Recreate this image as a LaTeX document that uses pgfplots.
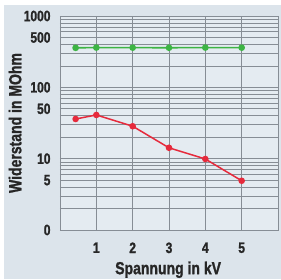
\documentclass[border=0pt]{standalone}
\usepackage{fontspec}
\setmainfont{Liberation Sans}
\newfontfamily\cond{Liberation Sans}[FakeStretch=0.8, BoldFeatures={FakeBold=1.2}]
\usepackage{pgfplots}
\pgfplotsset{compat=1.18}
\definecolor{bgc}{HTML}{DCE4EB}
\definecolor{plotbg}{HTML}{E4EBF1}
\definecolor{gridc}{HTML}{868D95}
\definecolor{gr}{HTML}{3DB444}
\definecolor{rd}{HTML}{E62A3C}
\begin{document}
\begin{tikzpicture}
\fill[bgc] (-60pt,-49pt) rectangle (221pt,230pt);
\fill[white] (-60pt,225pt) rectangle (221pt,230pt);
\fill[white] (-60pt,-49pt) rectangle (-56pt,230pt);
\begin{axis}[
  at={(0pt,0pt)}, anchor=south west,
  scale only axis, width=218pt, height=214pt,
  ymode=log, xmin=0, xmax=6, ymin=1, ymax=1000,
  axis background/.style={fill=plotbg},
  axis line style={gridc, line width=0.8pt},
  xtick={1,2,3,4,5}, xticklabels={1,2,3,4,5},
  ytick={1,2,3,4,5,6,7,8,9,10,20,30,40,50,60,70,80,90,100,200,300,400,500,600,700,800,900,1000},
  yticklabels={},
  extra y ticks={1,5,10,50,100,500,1000},
  extra y tick labels={0,5,10,50,100,500,1000},
  extra y tick style={grid=none},
  minor y tick num=0,
  major tick length=0pt,
  xmajorgrids, ymajorgrids,
  grid style={gridc, line width=0.7pt},
  tick label style={font=\cond\bfseries\fontsize{15}{15}\selectfont, text=black!85},
  xticklabel style={yshift=-9pt},
  yticklabel style={xshift=-6pt},
  log basis y=10,
  xlabel={Spannung in kV},
  ylabel={Widerstand in MOhm},
  label style={font=\cond\bfseries\fontsize{17.5}{17.5}\selectfont, text=black!85},
  xlabel style={at={(axis description cs:0.496,0)}, anchor=north, yshift=-28pt},
  ylabel style={at={(axis description cs:0,0.5)}, anchor=south, yshift=35pt},
  clip=false,
]
\addplot[rd, line width=1.5pt, mark=*, mark size=2.5pt] coordinates {
  (0.43,36) (1,41) (2,28.5) (3,14.2) (4,9.9) (5,4.9)
};
\addplot[gr, line width=1.6pt, mark=*, mark size=2.5pt] coordinates {
  (0.43,358) (1,361) (2,360) (3,359) (4,361) (5,360)
};
\end{axis}
\pgfresetboundingbox
\useasboundingbox (-60pt,-49pt) rectangle (221pt,230pt);
\end{tikzpicture}
\end{document}
